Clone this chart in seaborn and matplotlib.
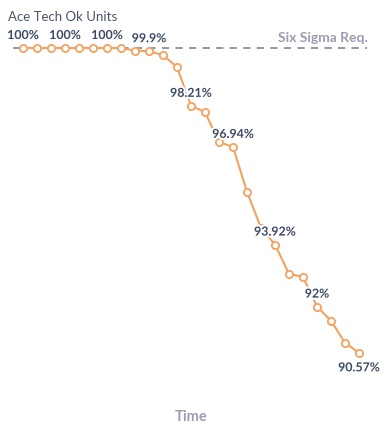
import seaborn as sns
import matplotlib.pyplot as plt
import matplotlib.patheffects as pe
import pandas as pd

# data
time_steps = list(range(25))
ok_units = [100, 100, 100, 100, 100, 100, 100, 100, 99.92, 99.9,
            99.78, 99.41, 98.21, 98.02, 97.09, 96.94, 95.55, 94.43,
            93.92, 93.01, 92.92, 92.0, 91.56, 90.88, 90.57]
label_steps = [0, 3, 6, 9, 12, 15, 18, 21, 24]
label_texts = ['100%', '100%', '100%', '99.9%', '98.21%', '96.94%',
               '93.92%', '92%', '90.57%']
six_sigma = 99.99966

line_color = '#f4a261'
label_color = '#3b4a63'
muted = '#9a9db2'

sns.set_style('white')
plt.rcParams['font.family'] = ['Lato', 'DejaVu Sans']

df = pd.DataFrame({'time': time_steps, 'ok': ok_units})

W, H = 389, 433
fig = plt.figure(figsize=(W / 100, H / 100), dpi=100)
ax = fig.add_axes([13 / W, (H - 380) / H, 354 / W, 340 / H])

ax.axhline(six_sigma, color='#8a8ca3', linestyle=(0, (4, 3.5)), linewidth=1.3, zorder=1)

sns.lineplot(data=df, x='time', y='ok', ax=ax, color=line_color, linewidth=1.5,
             marker='o', markersize=5.2, markerfacecolor='white',
             markeredgecolor=line_color, markeredgewidth=1.3, zorder=3)

for step, txt in zip(label_steps, label_texts):
    dy = -15 if step == label_steps[-1] else 12.5
    ax.annotate(txt, (step, ok_units[step]), xytext=(0, dy), textcoords='offset pixels',
                ha='center', va='center', fontsize=8.9, fontweight='bold', color=label_color,
                path_effects=[pe.withStroke(linewidth=3, foreground='white')], zorder=4)

ax.set_xlim(-0.714, 24.57)
ax.set_ylim(89.73, 100.247)
ax.axis('off')

fig.text(8 / W, 1 - 17 / H, 'Ace Tech Ok Units', ha='left', va='center',
         fontsize=9.5, color='#4a5468')
fig.text(368 / W, 1 - 38 / H, 'Six Sigma Req.', ha='right', va='center',
         fontsize=10, fontweight='bold', color=muted)
fig.text(191 / W, 1 - 417 / H, 'Time', ha='center', va='center',
         fontsize=10.5, fontweight='bold', color=muted)

fig.savefig('out.png', dpi=100)
